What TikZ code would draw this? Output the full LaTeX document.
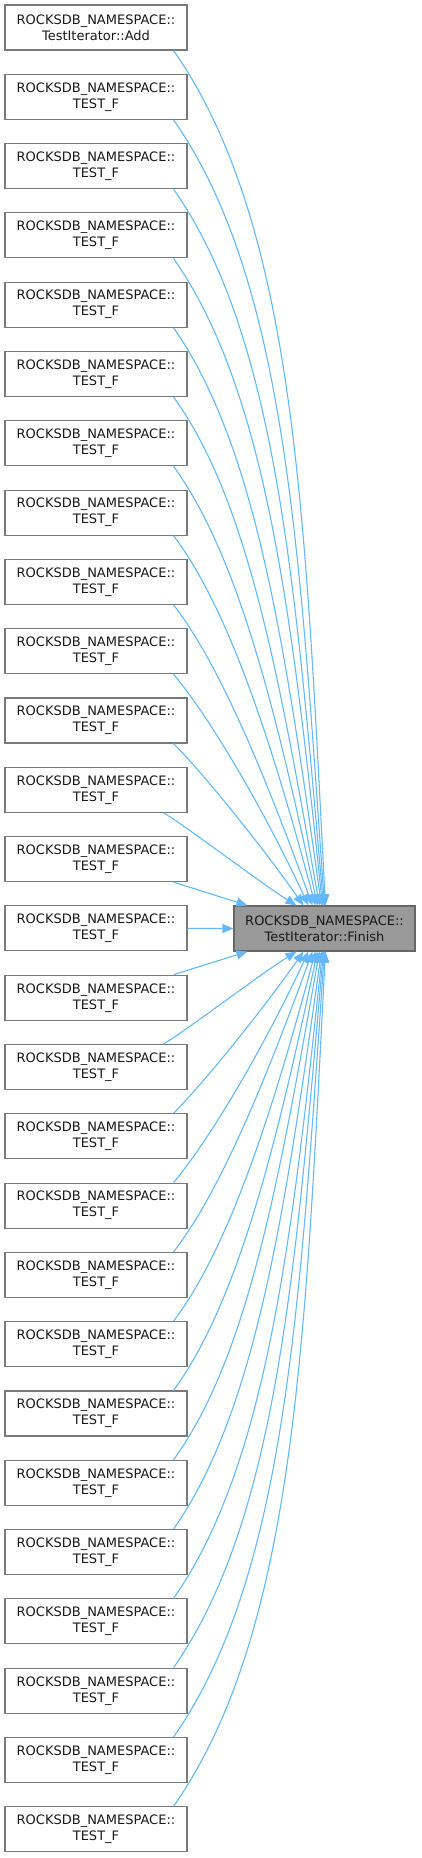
\documentclass[tikz,border=0pt]{standalone}
\usepackage{fontspec}
\setmainfont{DejaVu Sans}
\usetikzlibrary{arrows.meta}
\definecolor{edgeblue}{HTML}{63B8FF}
\definecolor{boxborder}{HTML}{7A7A7A}
\definecolor{hlborder}{HTML}{666666}
\definecolor{hlfill}{HTML}{999999}
\begin{document}
\begin{tikzpicture}[x=1pt,y=1pt,
  box/.style={draw=boxborder, line width=1.1pt, fill=white, minimum width=182pt, minimum height=45pt, inner sep=0pt, align=center, font=\fontsize{13}{16}\selectfont, text=black!90},
  hl/.style={box, draw=hlborder, fill=hlfill, minimum width=181pt},
  edge/.style={draw=edgeblue, line width=1.1pt, -{Triangle[length=11pt,width=9pt]}}]
\useasboundingbox (0,0) rectangle (421,-1858);
\node[box] (l1) at (96,-27.5) {ROCKSDB\_NAMESPACE::\\TestIterator::Add};
\foreach \k in {2,...,27} {
  \pgfmathsetmacro{\yy}{-(27.5+(\k-1)*69.3)}
  \node[box] (l\k) at (96,\yy) {ROCKSDB\_NAMESPACE::\\TEST\_F};
}
\node[hl] (r) at (324.5,-928.5) {ROCKSDB\_NAMESPACE::\\TestIterator::Finish};
% middle
\draw[edge] (l14.east) -- (r.west);
% nearest
\draw[edge] ([xshift=-14pt]l13.south east) -- ([xshift=14pt]r.north west);
\draw[edge] ([xshift=-14pt]l15.north east) -- ([xshift=14pt]r.south west);
\foreach \d/\tx/\o/\i/\sx in {2/297/-30/148/-24, 3/304/-45/125/-14, 4/309/-50/115/-14, 5/313/-52/110/-14, 6/316/-53/105/-14, 7/318/-54/102/-14, 8/320/-54/100/-14, 9/322/-55/98/-14, 10/323/-55/96/-14, 11/324/-55/95/-14, 12/325/-55/94/-14, 13/326/-55/93/-14} {
  \pgfmathtruncatemacro{\u}{14-\d}
  \pgfmathtruncatemacro{\w}{14+\d}
  \pgfmathsetmacro{\h}{69.3*\d-44.9}
  \pgfmathsetmacro{\od}{0.25*\h}
  \pgfmathsetmacro{\id}{0.45*\h}
  \pgfmathsetmacro{\xs}{\tx-234}
  \draw[edge] ([xshift=\sx pt]l\u.south east) to[out=\o, in=\i, out distance=\od pt, in distance=\id pt] ([xshift=\xs pt]r.north west);
  \draw[edge] ([xshift=\sx pt]l\w.north east) to[out=-\o, in=-\i, out distance=\od pt, in distance=\id pt] ([xshift=\xs pt]r.south west);
}
\end{tikzpicture}
\end{document}
